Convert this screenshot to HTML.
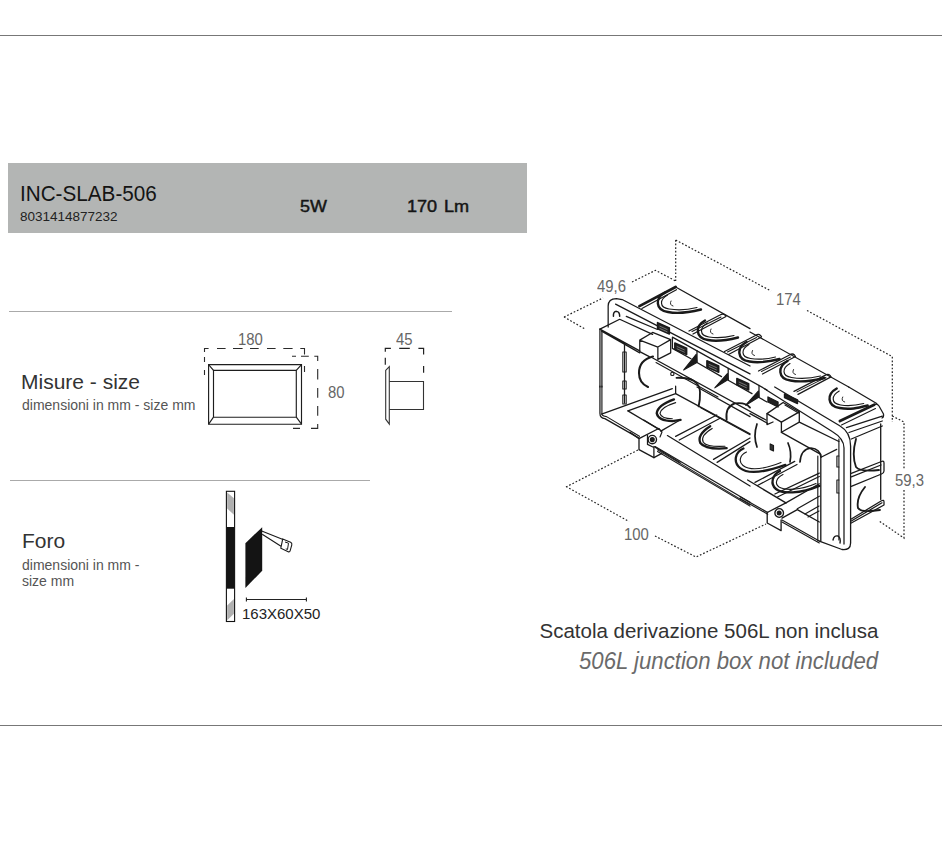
<!DOCTYPE html>
<html><head><meta charset="utf-8">
<style>
html,body{margin:0;padding:0;background:#fff;}
body{width:942px;height:858px;position:relative;overflow:hidden;font-family:"Liberation Sans",sans-serif;}
.a{position:absolute;white-space:nowrap;line-height:1;}
.hl{position:absolute;height:1px;}
</style></head><body>
<div class="hl" style="left:0;top:35px;width:942px;background:#777;"></div>
<div class="hl" style="left:0;top:725px;width:942px;background:#777;"></div>
<div class="hl" style="left:9px;top:311px;width:443px;background:#aaa;"></div>
<div class="hl" style="left:10px;top:480px;width:360px;background:#aaa;"></div>
<div style="position:absolute;left:8px;top:163px;width:519px;height:70px;background:#b3b5b4;"></div>

<div class="a" id="t1" style="left:20px;top:183px;font-size:22px;transform:scaleX(0.94);transform-origin:0 0;color:#141414;">INC-SLAB-506</div>
<div class="a" id="t2" style="left:20px;top:210px;font-size:13.5px;color:#222;">8031414877232</div>
<div class="a" id="t3" style="left:300px;top:198.5px;font-size:16px;-webkit-text-stroke:0.45px #151515;color:#151515;transform:scaleX(1.12);transform-origin:0 0;">5W</div>
<div class="a" id="t4" style="left:407px;top:198.5px;font-size:16px;word-spacing:1.5px;-webkit-text-stroke:0.45px #151515;color:#151515;transform:scaleX(1.13);transform-origin:0 0;">170 Lm</div>

<div class="a" id="t5" style="left:21px;top:371px;font-size:21px;color:#333;">Misure - size</div>
<div class="a" id="t6" style="left:22px;top:398px;font-size:14px;color:#555;">dimensioni in mm - size mm</div>
<div class="a" id="t7" style="left:22px;top:530px;font-size:21px;color:#333;">Foro</div>
<div class="a" id="t8" style="left:22px;top:558px;font-size:14px;color:#555;">dimensioni in mm -</div>
<div class="a" id="t9" style="left:22px;top:574px;font-size:14px;color:#555;">size mm</div>

<div class="a" id="t10" style="left:539.5px;top:620.5px;font-size:20.5px;color:#333;">Scatola derivazione 506L non inclusa</div>
<div class="a" id="t11" style="left:579px;top:650px;font-size:23px;font-style:italic;color:#6a6a6a;transform:scaleX(0.964);transform-origin:0 0;">506L junction box not included</div>

<div class="a" id="t12" style="left:238px;top:332px;font-size:16px;color:#666;transform:scaleX(0.93);transform-origin:0 0;">180</div>
<div class="a" id="t13" style="left:328px;top:385px;font-size:16px;color:#666;transform:scaleX(0.93);transform-origin:0 0;">80</div>
<div class="a" id="t14" style="left:396px;top:332px;font-size:16px;color:#666;transform:scaleX(0.93);transform-origin:0 0;">45</div>
<div class="a" id="t15" style="left:242px;top:606px;font-size:15px;color:#222;">163X60X50</div>
<div class="a" id="t16" style="left:597px;top:279px;font-size:16px;color:#666;transform:scaleX(0.93);transform-origin:0 0;">49,6</div>
<div class="a" id="t17" style="left:776px;top:292px;font-size:16px;color:#666;transform:scaleX(0.93);transform-origin:0 0;">174</div>
<div class="a" id="t18" style="left:895px;top:473px;font-size:16px;color:#666;transform:scaleX(0.93);transform-origin:0 0;">59,3</div>
<div class="a" id="t19" style="left:624px;top:527px;font-size:16px;color:#666;transform:scaleX(0.93);transform-origin:0 0;">100</div>
<svg style="position:absolute;left:0;top:0" width="942" height="858" viewBox="0 0 942 858">
<g fill="none" stroke="#1e1e1e" stroke-width="1.15">
<path d="M208.6,364.6 H301.5 V424.2 H208.6 Z"/>
<path d="M213.5,370.3 H296.3 V417.2 H213.5 Z"/>
<path d="M208.6,364.6 L213.5,370.3 M301.5,364.6 L296.3,370.3 M301.5,424.2 L296.3,417.2 M208.6,424.2 L213.5,417.2"/>
</g>
<g fill="none" stroke="#2a2a2a" stroke-width="1.1">
<path d="M204.5,352 V348.5 H208.6 M217,348.5 H225.6 M233,348.5 H242.6 M250,348.5 H258.7 M267,348.5 H275.6 M283.3,348.5 H292.6 M300.3,348.5 H304.5 V354.4 M304.5,366 V372 M204.5,357 V362 M204.5,370 V375"/>
<path d="M292,356.3 H296 M301,356.3 H308.8 M314.3,356.3 H317.7 V361 M317.7,369 V379.5 M317.7,388 V397.8 M317.7,406 V415.7 M317.7,424 V428.4 H311 M300,428.4 H293"/>
</g>
<g fill="none" stroke="#333" stroke-width="1.1">
<path d="M385.7,370.3 L389.3,366.6 V424.1 L385.7,419.2 Z"/>
<path d="M389.3,381.5 H423.5 V409.5 H389.3"/>
<path d="M385.3,351.8 V348.3 H390.9 M399.2,348.3 H409.8 M418.4,348.3 H423.6 V354.6 M385.3,357.8 V364.7 M423.6,366.1 V372.7" stroke="#222" stroke-width="1.2"/>
</g>
<g>
<rect x="226.4" y="491.3" width="8.2" height="130.2" fill="#fff" stroke="#111" stroke-width="1.1"/>
<rect x="226.4" y="527" width="8.2" height="61.7" fill="#141414"/>
<path d="M227.2,492.6 L233.9,498.3 V514.7 L227.2,508.5 Z" fill="#b0b0b0"/>
<path d="M227.2,605.6 L233.9,598.9 V613.8 L227.2,620.2 Z" fill="#b0b0b0"/>
<path d="M245.4,543.2 L262.2,527.2 V570.7 L245.4,588.1 Z" fill="#141414"/>
<path d="M261.7,531 L283,539.4 M262.2,534.3 L281,546.2" stroke="#1a1a1a" stroke-width="1.1" fill="none"/>
<path d="M282.7,539.1 L290.6,542.3 Q292.2,543.2 291.8,544.8 L290.1,550.8 Q289.6,552.3 288.2,551.7 L280.8,548.2 Z" stroke="#1a1a1a" stroke-width="1.1" fill="#fff"/>
<path d="M285,542 L288.5,543.2 L287.5,549.5 L285.8,548.8" stroke="#1a1a1a" stroke-width="1" fill="none"/>
<path d="M246.4,599.5 H306.4 M246.4,597.5 V601.5 M306.4,597.5 V601.5" stroke="#222" stroke-width="1.1"/>
</g>
<!--BOX--><g fill="none" stroke="#1a1a1a" stroke-linecap="round" stroke-linejoin="round"><g transform="translate(595,262) scale(0.164555)">
<path d="M80,395 V268 Q80,222 130,222 L165,228 L942,632" stroke-width="1.26" vector-effect="non-scaling-stroke" />
<path d="M125,256 L942,680" stroke-width="1.26" vector-effect="non-scaling-stroke" />
<path d="M112,330 Q110,300 130,300 Q150,302 150,330" stroke-width="1.49" vector-effect="non-scaling-stroke" />
<path d="M270,268 L490,152" stroke-width="2.76" vector-effect="non-scaling-stroke" />
<path d="M285,282 L495,168" stroke-width="1.15" vector-effect="non-scaling-stroke" />
<path d="M490,152 L942,405" stroke-width="1.26" vector-effect="non-scaling-stroke" />
<path d="M30,408 L150,348 L350,440" stroke-width="1.26" vector-effect="non-scaling-stroke" />
<path d="M30,408 L272,540 M40,420 L272,552" stroke-width="1.26" vector-effect="non-scaling-stroke" />
<path d="M30,408 V760 M42,420 V760" stroke-width="1.26" vector-effect="non-scaling-stroke" />
<path d="M272,475 V545 L330,575 M272,475 L350,428 L460,472 L382,517 Z M382,517 V592 L460,552 V472" stroke-width="1.26" vector-effect="non-scaling-stroke" />
<path d="M190,330 L380,410" stroke-width="1.26" vector-effect="non-scaling-stroke" />
<path d="M470,680 m-10,0 a10,10 0 1 0 20,0 a10,10 0 1 0 -20,0" stroke-width="1.15" vector-effect="non-scaling-stroke" />
<path d="M380,368 L452,400 V438 L380,406 Z" stroke-width="1.49" vector-effect="non-scaling-stroke" fill="#222"/>
<path d="M394,390 L438,410 M394,404 L438,424" stroke-width="0.69" vector-effect="non-scaling-stroke" stroke="#999"/>
<path d="M485,492 L557,524 V562 L485,530 Z" stroke-width="1.49" vector-effect="non-scaling-stroke" fill="#222"/>
<path d="M499,514 L543,534 M499,528 L543,548" stroke-width="0.69" vector-effect="non-scaling-stroke" stroke="#999"/>
<path d="M680,600 L752,632 V670 L680,638 Z" stroke-width="1.49" vector-effect="non-scaling-stroke" fill="#222"/>
<path d="M694,622 L738,642 M694,636 L738,656" stroke-width="0.69" vector-effect="non-scaling-stroke" stroke="#999"/>
<path d="M862,708 L934,740 V778 L862,746 Z" stroke-width="1.49" vector-effect="non-scaling-stroke" fill="#222"/>
<path d="M876,730 L920,750 M876,744 L920,764" stroke-width="0.69" vector-effect="non-scaling-stroke" stroke="#999"/>
</g>
<g transform="translate(750,262) scale(0.164555)">
<path d="M0,425 L600,760" stroke-width="1.26" vector-effect="non-scaling-stroke" />
</g>
<g transform="translate(595,387) scale(0.164555)">
<path d="M30,-5 V160 Q30,190 60,192 L270,312" stroke-width="1.26" vector-effect="non-scaling-stroke" />
<path d="M42,-5 V165 Q45,178 70,180 L270,300" stroke-width="1.15" vector-effect="non-scaling-stroke" />
<path d="M40,165 L470,10" stroke-width="1.26" vector-effect="non-scaling-stroke" />
<path d="M200,145 L490,40 V-5" stroke-width="1.26" vector-effect="non-scaling-stroke" />
<path d="M200,145 L390,258" stroke-width="1.26" vector-effect="non-scaling-stroke" />
<path d="M440,295 L942,602" stroke-width="1.26" vector-effect="non-scaling-stroke" />
<path d="M365,362 L942,700" stroke-width="1.26" vector-effect="non-scaling-stroke" />
<path d="M380,382 L942,716 M380,392 L942,724" stroke-width="1.03" vector-effect="non-scaling-stroke" />
<path d="M480,75 Q380,110 375,160 Q385,207 470,207 L520,200" stroke-width="2.30" vector-effect="non-scaling-stroke" />
<path d="M490,95 Q402,122 395,160 Q402,192 470,193" stroke-width="1.15" vector-effect="non-scaling-stroke" />
<path d="M490,300 L740,170 M512,322 L760,190" stroke-width="1.26" vector-effect="non-scaling-stroke" />
<path d="M700,238 Q618,290 640,340 Q672,382 800,372" stroke-width="2.30" vector-effect="non-scaling-stroke" />
<path d="M712,252 Q638,295 658,336 Q684,366 790,360" stroke-width="1.15" vector-effect="non-scaling-stroke" />
<path d="M720,440 L942,310 M742,458 L942,332" stroke-width="1.26" vector-effect="non-scaling-stroke" />
<path d="M800,200 Q790,120 850,100 Q915,92 942,125" stroke-width="1.84" vector-effect="non-scaling-stroke" />
<path d="M490,40 L942,285" stroke-width="1.26" vector-effect="non-scaling-stroke" />
<path d="M620,0 L942,180" stroke-width="1.26" vector-effect="non-scaling-stroke" />
<path d="M640,125 L942,290" stroke-width="1.15" vector-effect="non-scaling-stroke" />
</g>
<g transform="translate(0,0) scale(1.000000)">
<path d="M774.7,387 L839.7,425.7 Q850.6,432 850.6,446 V543 Q850.6,550.5 842,549.5 L819.3,541.1" stroke-width="1.32" vector-effect="non-scaling-stroke" />
<path d="M764.8,389 L832.2,431.5 Q844,438.5 844,448 V544" stroke-width="1.26" vector-effect="non-scaling-stroke" />
<path d="M838.9,439 V540" stroke-width="1.15" vector-effect="non-scaling-stroke" />
<path d="M838.9,456 h-2 v11 h2 M838.9,480 h-2 v13 h2" stroke-width="1.15" vector-effect="non-scaling-stroke" />
<path d="M767,413.6 L783.1,402.5 L799.3,411.9 L781.4,422.1 Z" stroke-width="1.32" vector-effect="non-scaling-stroke" />
<path d="M767,413.6 V424.6 L773,422 M781.4,422.1 V432.3 M799.3,411.9 V422.1 L781.4,432.3" stroke-width="1.32" vector-effect="non-scaling-stroke" />
<path d="M785,405 L798.5,413" stroke-width="1.15" vector-effect="non-scaling-stroke" />
<path d="M799.3,422.1 L838.9,441.5" stroke-width="1.32" vector-effect="non-scaling-stroke" />
<path d="M781.4,432.3 L820.8,454.3 V541" stroke-width="1.32" vector-effect="non-scaling-stroke" />
<path d="M750,413.6 L767,423" stroke-width="1.32" vector-effect="non-scaling-stroke" />
<path d="M800,462 Q801,449 811,448 Q820,449 821,457" stroke-width="1.72" vector-effect="non-scaling-stroke" />
<path d="M768,397 L778,402 V407 L768,402 Z" stroke-width="1.38" vector-effect="non-scaling-stroke" fill="#222"/>
<path d="M784.5,394 L797.5,400 V403.5 L784.5,397.5 Z" stroke-width="1.38" vector-effect="non-scaling-stroke" fill="#222"/>
<path d="M757,424 Q753,436 757,447" stroke-width="1.72" vector-effect="non-scaling-stroke" />
<path d="M788,443 Q792,452 790,462" stroke-width="1.72" vector-effect="non-scaling-stroke" />
<path d="M747.6,480 L785.9,502.9" stroke-width="1.32" vector-effect="non-scaling-stroke" />
<path d="M740,496.7 L767.7,512.5 M740,498.4 L767.7,514.2" stroke-width="1.15" vector-effect="non-scaling-stroke" />
<path d="M767.2,512.5 V523 L781.1,530.6 V520 M767.2,512.5 L785.9,502.9" stroke-width="1.32" vector-effect="non-scaling-stroke" />
<path d="M779.2,513 m-4.3,0 a4.3,4.3 0 1 0 8.6,0 a4.3,4.3 0 1 0 -8.6,0" stroke-width="1.38" vector-effect="non-scaling-stroke" />
<path d="M779.2,513 m-1.6,0 a1.6,1.6 0 1 0 3.2,0 a1.6,1.6 0 1 0 -3.2,0" stroke-width="1.84" vector-effect="non-scaling-stroke" fill="#222"/>
<path d="M782,518.2 L797.3,509.6 L819.3,522" stroke-width="1.32" vector-effect="non-scaling-stroke" />
<path d="M782,520.1 L819.3,541.1 M782,522 L819.3,543" stroke-width="1.15" vector-effect="non-scaling-stroke" />
<path d="M785.9,502.9 L819.3,483.8 M797.3,508.7 L819.3,496.2" stroke-width="1.26" vector-effect="non-scaling-stroke" />
<path d="M805,514 L819,506 M808,517 L819,511" stroke-width="1.15" vector-effect="non-scaling-stroke" />
<path d="M833,540 Q834,535 838,536 Q841,538 840,543" stroke-width="1.38" vector-effect="non-scaling-stroke" />
<path d="M743.4,448.5 C735,452 733,462 740,468 C746,473 760,474 785.4,464.9" stroke-width="2.30" vector-effect="non-scaling-stroke" />
<path d="M746.5,452 C739.5,455 738.5,462 743,465.5 C749,470 762,470 781,462.5" stroke-width="1.15" vector-effect="non-scaling-stroke" />
<path d="M780,471 C772,475 770,484 776,489 C782,494 800,494 819.3,485.9" stroke-width="2.30" vector-effect="non-scaling-stroke" />
<path d="M783,474.5 C776,478 774.5,484 779,487 C785,490.5 800,490.5 816,483.5" stroke-width="1.15" vector-effect="non-scaling-stroke" />
<path d="M755,482.4 L794.7,461.4 M757.5,485.5 L797,464.5" stroke-width="1.26" vector-effect="non-scaling-stroke" />
<path d="M774.9,494 L819.3,473.1 M777.5,497 L819.3,476.5" stroke-width="1.26" vector-effect="non-scaling-stroke" />
<path d="M770.2,443.9 L773.5,445.5 V451 L770.2,449.4 Z" stroke-width="1.15" vector-effect="non-scaling-stroke" fill="#333"/>
<path d="M839.9,421.1 L874.2,404.8" stroke-width="2.76" vector-effect="non-scaling-stroke" />
<path d="M841.5,425 L875.5,408.5" stroke-width="1.03" vector-effect="non-scaling-stroke" />
<path d="M874.2,404.8 Q877,403 879,406 L883.5,414 Q884,417 882,418" stroke-width="1.26" vector-effect="non-scaling-stroke" />
<path d="M846.4,427.6 L882.3,416.2 M849,432.5 L882.3,421 M851.3,439 L882.3,426" stroke-width="1.26" vector-effect="non-scaling-stroke" />
<path d="M880.7,424 V499.4" stroke-width="1.32" vector-effect="non-scaling-stroke" />
<path d="M851.3,473.3 L881.5,461.5 Q884,460.5 884,463 V471 Q884,473 881.5,474 L851.3,486.4 M851.3,476.8 L881,465" stroke-width="1.26" vector-effect="non-scaling-stroke" />
<path d="M851.3,519 L881.5,500.8 Q884,499.4 884,502 V505 L851.3,523 M851.3,521 L882,502.8" stroke-width="1.26" vector-effect="non-scaling-stroke" />
<path d="M856,439 Q851.5,455 856,467 Q860,472 879,470" stroke-width="1.84" vector-effect="non-scaling-stroke" />
<path d="M865,487 Q856,498 858,508 Q861,513 880,510" stroke-width="1.84" vector-effect="non-scaling-stroke" />
<path d="M817.8,456 V541" stroke-width="1.15" vector-effect="non-scaling-stroke" />
<path d="M821.5,457 L836.7,449.4" stroke-width="1.26" vector-effect="non-scaling-stroke" />
<path d="M0,0" stroke-width="0.00" vector-effect="non-scaling-stroke" />
</g>
<g transform="translate(0,0) scale(1.000000)">
<path d="M630,432.2 L639,438.6 V449.7 L653.9,457.7 L661.8,453.4" stroke-width="1.32" vector-effect="non-scaling-stroke" />
<path d="M639,438.6 L658.7,428.5" stroke-width="1.32" vector-effect="non-scaling-stroke" />
<path d="M647.5,435.4 V444.4 L653.9,447.5 V457.7" stroke-width="1.26" vector-effect="non-scaling-stroke" />
<path d="M652.3,439.6 m-4.2,0 a4.2,4.2 0 1 0 8.4,0 a4.2,4.2 0 1 0 -8.4,0" stroke-width="1.38" vector-effect="non-scaling-stroke" />
<path d="M652.3,439.6 m-1.7,0 a1.7,1.7 0 1 0 3.4,0 a1.7,1.7 0 1 0 -3.4,0" stroke-width="1.72" vector-effect="non-scaling-stroke" fill="#222"/>
<path d="M653.9,446.5 L680,462.5" stroke-width="1.32" vector-effect="non-scaling-stroke" />
<path d="M643.8,420 L659.7,429.6" stroke-width="1.32" vector-effect="non-scaling-stroke" />
<path d="M660.8,431.1 L680,420" stroke-width="1.32" vector-effect="non-scaling-stroke" />
<path d="M658.7,428.5 L662,432 L660,437" stroke-width="1.15" vector-effect="non-scaling-stroke" />
<path d="M848.7,387 L876.7,403.5" stroke-width="1.32" vector-effect="non-scaling-stroke" />
<path d="M672.4,337.2 L767,390" stroke-width="1.32" vector-effect="non-scaling-stroke" />
<path d="M672.4,338 V348.4 L691,358.8 M697,350.6 V362.5 L721.5,376.6 M728.2,368.4 V380.3 L752,393.6 M759,385.5 V397.5 L767,402" stroke-width="1.26" vector-effect="non-scaling-stroke" />
<path d="M696.2,354.3 L683.6,370 L696.9,362.5 Z M727.4,373.6 L714.8,387.8 L728.2,379.6 Z M758.5,391 L745.7,405.2 L759,397 Z" stroke-width="1.15" vector-effect="non-scaling-stroke" fill="#1a1a1a"/>
<path d="M652.7,358 L766,420" stroke-width="1.32" vector-effect="non-scaling-stroke" />
<path d="M656,362.5 L718,397" stroke-width="1.03" vector-effect="non-scaling-stroke" />
<path d="M676.5,377.8 Q699.5,377 700,392 Q700.3,400 698.6,406.4" stroke-width="1.84" vector-effect="non-scaling-stroke" />
<path d="M653,356.5 Q639,360 639,373 Q639,383 648,387" stroke-width="2.07" vector-effect="non-scaling-stroke" />
<path d="M624.5,343 V403" stroke-width="1.26" vector-effect="non-scaling-stroke" />
<path d="M622.8,352 h3.4 v20 h-3.4 Z M622.8,381 h3.4 v8 h-3.4 Z M622.8,395 h3.4 v9 h-3.4 Z" stroke-width="1.03" vector-effect="non-scaling-stroke" />
</g>
<g transform="translate(0,0) scale(1.000000)">
<path d="M665,292.5 C655,298 655,310 668,312 C678,314 691,312 701,309.5" stroke-width="2.42" vector-effect="non-scaling-stroke" />
<path d="M667.5,295 C659.5,299.5 659,307.5 669,309 C678,310.5 689,309.5 697,307.5" stroke-width="1.15" vector-effect="non-scaling-stroke" />
<path d="M671,301 Q669,305 673,306" stroke-width="0.92" vector-effect="non-scaling-stroke" />
<path d="M705,320.5 C695,326 695,338 708,340 C718,342 728,340 738,337.5" stroke-width="2.42" vector-effect="non-scaling-stroke" />
<path d="M707.5,323 C699.5,327.5 699,335.5 709,337 C718,338.5 726,337.5 734,335.5" stroke-width="1.15" vector-effect="non-scaling-stroke" />
<path d="M711,329 Q709,333 713,334" stroke-width="0.92" vector-effect="non-scaling-stroke" />
<path d="M746.5,342.0 C736.5,347.5 736.5,359.5 749.5,361.5 C759.5,363.5 769.5,361.5 779.5,359.0" stroke-width="2.42" vector-effect="non-scaling-stroke" />
<path d="M749.0,344.5 C741.0,349.0 740.5,357.0 750.5,358.5 C759.5,360.0 767.5,359.0 775.5,357.0" stroke-width="1.15" vector-effect="non-scaling-stroke" />
<path d="M752.5,350.5 Q750.5,354.5 754.5,355.5" stroke-width="0.92" vector-effect="non-scaling-stroke" />
<path d="M787.5,361.0 C777.5,366.5 777.5,378.5 790.5,380.5 C800.5,382.5 814.5,380.5 824.5,378.0" stroke-width="2.42" vector-effect="non-scaling-stroke" />
<path d="M790.0,363.5 C782.0,368.0 781.5,376.0 791.5,377.5 C800.5,379.0 812.5,378.0 820.5,376.0" stroke-width="1.15" vector-effect="non-scaling-stroke" />
<path d="M793.5,369.5 Q791.5,373.5 795.5,374.5" stroke-width="0.92" vector-effect="non-scaling-stroke" />
<path d="M836.7,388.5 C826.7,394 826.7,406 839.7,408 C849.7,410 857.7,408 867.7,405.5" stroke-width="2.42" vector-effect="non-scaling-stroke" />
<path d="M839.2,391 C831.2,395.5 830.7,403.5 840.7,405 C849.7,406.5 855.7,405.5 863.7,403.5" stroke-width="1.15" vector-effect="non-scaling-stroke" />
<path d="M842.7,397 Q840.7,401 844.7,402" stroke-width="0.92" vector-effect="non-scaling-stroke" />
<path d="M689,331.025 L720,315.025 Q723,313.025 725,315.025 L726,316.525 L693,334.025" stroke-width="1.26" vector-effect="non-scaling-stroke" />
<path d="M692,331.525 L721,317.025" stroke-width="1.03" vector-effect="non-scaling-stroke" />
<path d="M724.5,351.4375 L755.5,335.4375 Q758.5,333.4375 760.5,335.4375 L761.5,336.9375 L728.5,354.4375" stroke-width="1.26" vector-effect="non-scaling-stroke" />
<path d="M727.5,351.9375 L756.5,337.4375" stroke-width="1.03" vector-effect="non-scaling-stroke" />
<path d="M758.5,370.9875 L789.5,354.9875 Q792.5,352.9875 794.5,354.9875 L795.5,356.4875 L762.5,373.9875" stroke-width="1.26" vector-effect="non-scaling-stroke" />
<path d="M761.5,371.4875 L790.5,356.9875" stroke-width="1.03" vector-effect="non-scaling-stroke" />
<path d="M794,391.4 L825,375.4 Q828,373.4 830,375.4 L831,376.9 L798,394.4" stroke-width="1.26" vector-effect="non-scaling-stroke" />
<path d="M797,391.9 L826,377.4" stroke-width="1.03" vector-effect="non-scaling-stroke" />
</g></g><g stroke="#222" stroke-width="1.2" stroke-dasharray="1.7 1.9" fill="none">
<path d="M675.7,240 V281 M675.7,240 L771,291 M807,310.5 L892.3,356.6 V422 M564,317 L603,298 M632,282 L655.5,270.3 L675.7,281 M564,317 L585,329 M892.3,416 L904,422 V470 M904,490 V538 L879,521 M566,487 L638,450 M566,486.5 L629,521.5 M655,536 L696,557 L766,524"/>
</g><!--/BOX-->
</svg>
</body></html>
